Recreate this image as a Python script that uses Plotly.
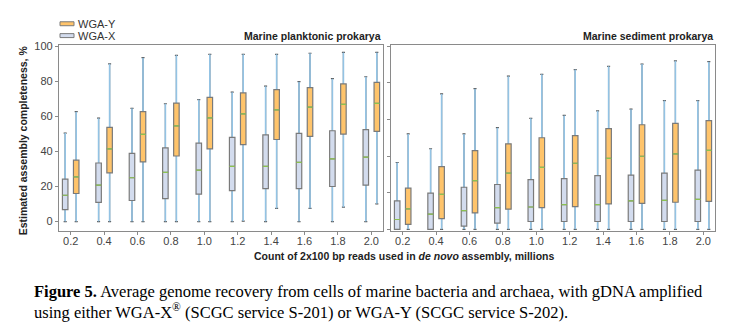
import plotly.graph_objects as go

# ---------------- data ----------------
positions = [0.2, 0.4, 0.6, 0.8, 1.0, 1.2, 1.4, 1.6, 1.8, 2.0]
tick_labels = ["0.2", "0.4", "0.6", "0.8", "1.0", "1.2", "1.4", "1.6", "1.8", "2.0"]
y_ticks = [0, 20, 40, 60, 80, 100]

# Marine planktonic prokarya
plank_x_low = [0, 0, 0, 0, 0, 0, 0, 0, 0, 0]
plank_x_q1 = [6.8, 11, 12, 13.1, 15.6, 17.6, 18.8, 18.8, 20, 20.8]
plank_x_med = [15, 20.8, 25, 28, 29.3, 31.5, 31.5, 33.8, 35.8, 36.8]
plank_x_q3 = [24.2, 33.4, 38.9, 42, 44.7, 48, 49.4, 50.3, 51.8, 52.4]
plank_x_high = [50.5, 59, 64.6, 67.2, 69.6, 73.8, 77.2, 79.8, 81.5, 82.6]

plank_y_low = [0, 0, 0, 0, 0, 0.3, 7.5, 7.5, 8.2, 10.1]
plank_y_q1 = [16, 27.8, 34, 37.4, 41.5, 43.9, 46.8, 48.6, 49.9, 51.4]
plank_y_med = [25.5, 41.5, 49.7, 54.6, 59.2, 61.4, 63.7, 65.3, 66.8, 67.4]
plank_y_q3 = [35, 53.7, 62.7, 67.6, 70.8, 73.4, 75.3, 76.4, 78.5, 79.4]
plank_y_high = [62.7, 90, 93.5, 94.8, 95.4, 95.4, 95.4, 96, 96.5, 96.5]

# Marine sediment prokarya
sed_x_low = [0, 0, 0, 0, 0, 0, 0, 0, 0, 0]
sed_x_q1 = [0, 0, 1.8, 3.4, 4.3, 4.3, 4.3, 4.3, 4.3, 4.3]
sed_x_med = [5.4, 8.3, 10.2, 11.9, 12.2, 13.5, 13.5, 15.5, 15.8, 16.4]
sed_x_q3 = [15.5, 19.8, 23, 24.5, 27.2, 27.7, 29.3, 29.6, 30.7, 32.3]
sed_x_high = [36.5, 44, 52.1, 55.5, 60.6, 62.2, 64.7, 65.6, 70.3, 70.3]

sed_y_low = [0, 0, 0, 0, 0, 0, 0, 0, 0, 0]
sed_y_q1 = [2.7, 5.9, 9, 11, 11.9, 12.4, 13.9, 14.2, 14.8, 15.3]
sed_y_med = [11.2, 19.1, 26.6, 30.7, 33.8, 36.1, 38.8, 39.9, 41.2, 43.1]
sed_y_q3 = [22.5, 34.3, 43, 46.7, 50, 51.2, 55, 57.1, 57.9, 59.3]
sed_y_high = [52.1, 73.9, 76.8, 83.6, 84.6, 87.2, 89, 90.2, 92, 91.5]

# ---------------- styles ----------------
FILL_Y = "#FFC46B"
FILL_X = "#D3DCEE"
EDGE = "#7A7A7A"
WHISK = "#93C3E4"
CAP = "#555555"
MED = "#8CC152"
AX = "#8A8A8A"
SANS = "Liberation Sans, Arial, sans-serif"
SERIF = "Liberation Serif, Times New Roman, serif"
W, H = 741, 329

fig = go.Figure()


def add_series(xa, ya, og, lo, q1, med, q3, hi, fill):
    common = dict(x=positions, xaxis=xa, yaxis=ya, offsetgroup=og,
                  alignmentgroup=xa, boxpoints=False, hoverinfo="skip",
                  showlegend=False)
    # dark whisker caps
    fig.add_trace(go.Box(**common, q1=med, median=med, q3=med, lowerfence=lo,
                         upperfence=hi, line=dict(color=CAP, width=1.2),
                         fillcolor="rgba(0,0,0,0)", whiskerwidth=0.55))
    # blue whiskers
    fig.add_trace(go.Box(**common, q1=med, median=med, q3=med, lowerfence=lo,
                         upperfence=hi, line=dict(color=WHISK, width=1.6),
                         fillcolor="rgba(0,0,0,0)", whiskerwidth=0))
    # boxes
    fig.add_trace(go.Box(**common, q1=q1, median=med, q3=q3, lowerfence=q1,
                         upperfence=q3, line=dict(color=EDGE, width=1.2),
                         fillcolor=fill, whiskerwidth=0))
    # green medians
    fig.add_trace(go.Box(**common, q1=med, median=med, q3=med, lowerfence=med,
                         upperfence=med, line=dict(color=MED, width=1.2),
                         fillcolor="rgba(0,0,0,0)", whiskerwidth=0))


add_series("x", "y", "X", plank_x_low, plank_x_q1, plank_x_med, plank_x_q3, plank_x_high, FILL_X)
add_series("x", "y", "Y", plank_y_low, plank_y_q1, plank_y_med, plank_y_q3, plank_y_high, FILL_Y)
add_series("x2", "y2", "X", sed_x_low, sed_x_q1, sed_x_med, sed_x_q3, sed_x_high, FILL_X)
add_series("x2", "y2", "Y", sed_y_low, sed_y_q1, sed_y_med, sed_y_q3, sed_y_high, FILL_Y)


def px_x(p):
    return p / W


def px_y(p):
    return 1 - p / H


ydom = [px_y(230), px_y(41)]
xcommon = dict(range=[0.13, 2.07], tickvals=positions, ticktext=tick_labels,
               ticks="outside", ticklen=3, tickcolor=AX, showline=True,
               mirror=True, linecolor=AX, linewidth=1.3, showgrid=False,
               zeroline=False, ticklabelstandoff=-4,
               tickfont=dict(family=SANS, size=11, color="#444444"))
ycommon = dict(tickvals=y_ticks, ticks="outside", ticklen=3, tickcolor=AX,
               showline=True, mirror=True, linecolor=AX, linewidth=1.3,
               showgrid=False, zeroline=False, domain=ydom,
               tickfont=dict(family=SANS, size=11, color="#444444"))

fig.update_layout(
    width=W, height=H,
    margin=dict(l=0, r=0, t=0, b=0),
    paper_bgcolor="white", plot_bgcolor="white",
    boxmode="group", boxgap=0.34, boxgroupgap=0.5,
    showlegend=False,
    xaxis=dict(domain=[px_x(59), px_x(383)], anchor="y", **xcommon),
    xaxis2=dict(domain=[px_x(391), px_x(715)], anchor="y2", **xcommon),
    yaxis=dict(range=[-5.5, 101], anchor="x", **ycommon),
    yaxis2=dict(range=[-1, 100.9], anchor="x2", showticklabels=False, **ycommon),
)

# legend (manual, compact)
legend_items = [("WGA-Y", FILL_Y, 20), ("WGA-X", FILL_X, 32)]
for name, col, yc in legend_items:
    fig.add_shape(type="rect", xref="paper", yref="paper",
                  x0=px_x(60), x1=px_x(74), y0=px_y(yc + 2), y1=px_y(yc - 2),
                  fillcolor=col, line=dict(color=EDGE, width=1))
    fig.add_annotation(text=name, xref="paper", yref="paper", x=px_x(76),
                       y=px_y(yc), xanchor="left", yanchor="middle",
                       showarrow=False, font=dict(family=SANS, size=11, color="#333333"))

# panel titles
for txt, xr in [("Marine planktonic prokarya", 383), ("Marine sediment prokarya", 715)]:
    fig.add_annotation(text="<b>" + txt + "</b>", xref="paper", yref="paper",
                       x=px_x(xr), y=px_y(32), xanchor="right", yanchor="middle",
                       showarrow=False, font=dict(family=SANS, size=10.5, color="#222222"))

# axis titles
fig.add_annotation(text="<b>Estimated assembly completeness, %</b>", xref="paper",
                   yref="paper", x=px_x(23), y=px_y(138), textangle=-90,
                   xanchor="center", yanchor="middle", showarrow=False,
                   font=dict(family=SANS, size=10.5, color="#222222"))
fig.add_annotation(text="<b>Count of 2x100 bp reads used in <i>de novo</i> assembly, millions</b>",
                   xref="paper", yref="paper", x=px_x(404), y=px_y(255),
                   xanchor="center", yanchor="middle", showarrow=False,
                   font=dict(family=SANS, size=10.5, color="#222222"))

# caption
fig.add_annotation(text="<b>Figure 5.</b> Average genome recovery from cells of marine bacteria and archaea, with gDNA amplified",
                   xref="paper", yref="paper", x=px_x(32), y=px_y(291),
                   xanchor="left", yanchor="middle", showarrow=False,
                   font=dict(family=SERIF, size=16.5, color="#000000"))
fig.add_annotation(text="using either WGA-X<sup>®</sup> (SCGC service S-201) or WGA-Y (SCGC service S-202).",
                   xref="paper", yref="paper", x=px_x(32), y=px_y(311),
                   xanchor="left", yanchor="middle", showarrow=False,
                   font=dict(family=SERIF, size=16.5, color="#000000"))

fig.write_html("out.html")
